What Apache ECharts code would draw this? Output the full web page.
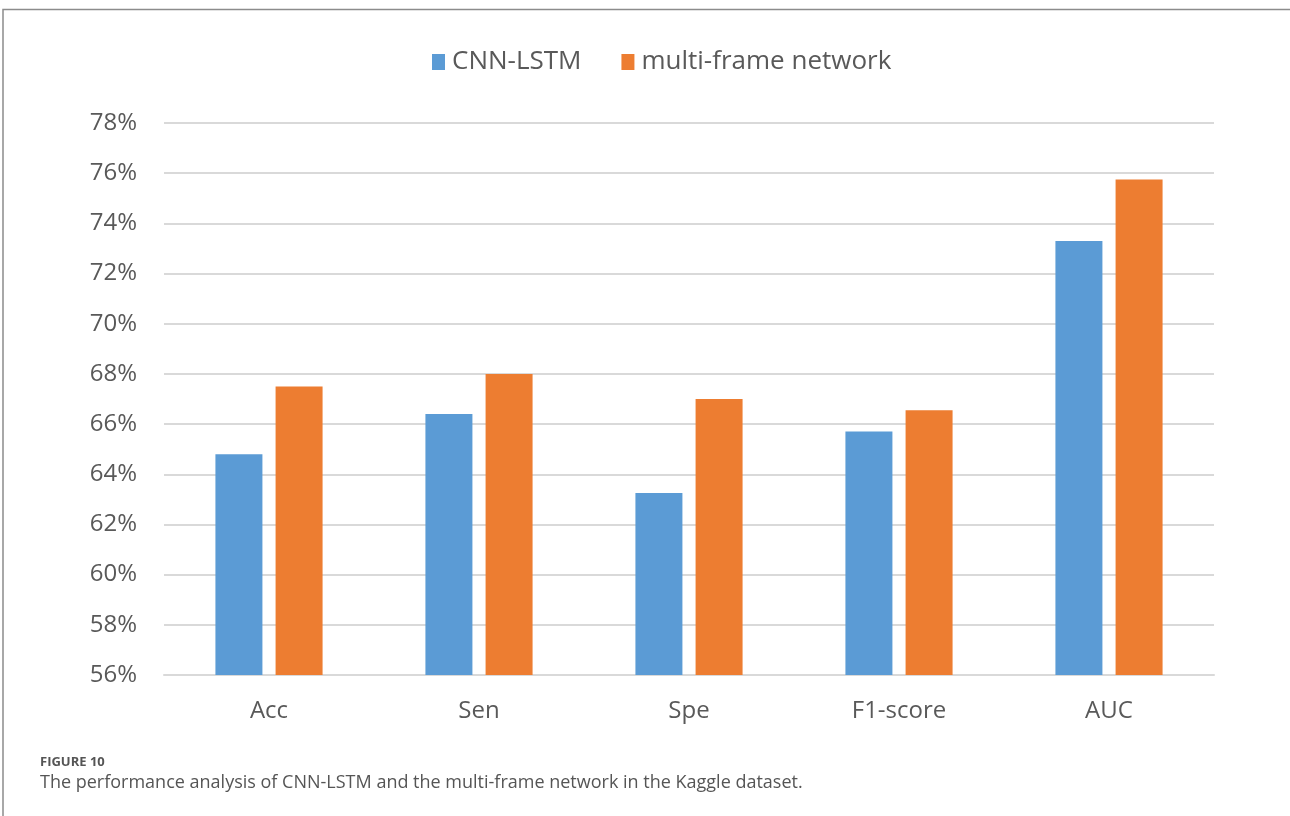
<!DOCTYPE html>
<html lang="en" style="height: 100%">
<head>
  <meta charset="utf-8">
</head>
<body style="height: 100%; margin: 0; background: #fff">
  <div id="container" style="width: 1290px; height: 816px"></div>

  <script type="text/javascript" src="https://cdn.jsdelivr.net/npm/echarts@6/dist/echarts.min.js"></script>
  <script type="text/javascript">
    // data
    var categories = ['Acc', 'Sen', 'Spe', 'F1-score', 'AUC'];
    var cnnLstm = [64.8, 66.4, 63.25, 65.7, 73.3];
    var multiFrame = [67.5, 68.0, 67.0, 66.55, 75.75];
    var seriesNames = ['CNN-LSTM', 'multi-frame network'];

    var dom = document.getElementById('container');
    var myChart = echarts.init(dom, null, { renderer: 'canvas' });
    var font = '"Open Sans", "Noto Sans", sans-serif';

    var option = {
      animation: false,
      color: ['#5b9bd5', '#ed7d31'],
      legend: {
        data: seriesNames,
        top: 44,
        left: 427,
        itemWidth: 13,
        itemHeight: 16,
        itemGap: 40,
        icon: 'rect',
        textStyle: { fontSize: 26, color: '#595959', fontFamily: font, padding: [0, 0, 0, 2] }
      },
      grid: { left: 164, right: 76, top: 123, bottom: 141 },
      xAxis: {
        type: 'category',
        data: categories,
        axisTick: { show: false },
        axisLine: { lineStyle: { color: '#d9d9d9', width: 2 } },
        axisLabel: { fontSize: 24, color: '#595959', margin: 24, fontFamily: font }
      },
      yAxis: {
        type: 'value',
        min: 56,
        max: 78,
        interval: 2,
        axisLine: { show: false },
        axisTick: { show: false },
        splitLine: { lineStyle: { color: '#d9d9d9', width: 2 } },
        axisLabel: { fontSize: 24, color: '#595959', margin: 27, fontFamily: font, formatter: '{value}%' }
      },
      series: [
        {
          name: seriesNames[0],
          type: 'bar',
          data: cnnLstm,
          barWidth: 47,
          barGap: '28%'
        },
        {
          name: seriesNames[1],
          type: 'bar',
          data: multiFrame,
          barWidth: 47,
          barGap: '28%'
        }
      ],
      graphic: [
        {
          type: 'polyline',
          shape: { points: [[3, 830], [3, 9.5], [1300, 9.5]] },
          style: { stroke: '#8c8c8c', lineWidth: 1.5, fill: null }
        },
        {
          type: 'text',
          left: 40,
          top: 756,
          style: { text: 'FIGURE 10', fontSize: 13, fontWeight: 'bold', fill: '#555', fontFamily: font }
        },
        {
          type: 'text',
          left: 40,
          top: 774,
          style: {
            text: 'The performance analysis of CNN-LSTM and the multi-frame network in the Kaggle dataset.',
            fontSize: 18, fill: '#555', fontFamily: font
          }
        }
      ]
    };

    myChart.setOption(option);
    window.addEventListener('resize', myChart.resize);
  </script>
</body>
</html>
